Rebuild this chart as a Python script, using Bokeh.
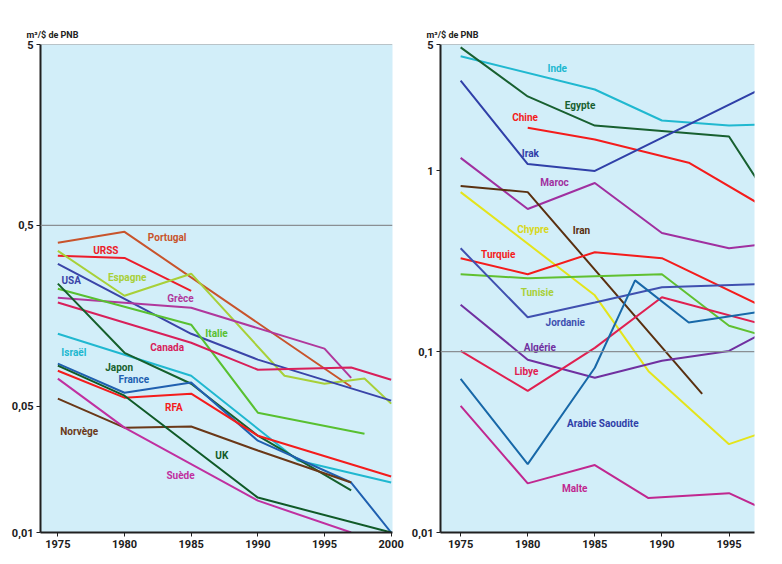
from bokeh.plotting import figure
from bokeh.models import Span, FixedTicker, ColumnDataSource
from bokeh.layouts import row
from bokeh.embed import file_html
from bokeh.resources import INLINE
from bokeh.core.properties import value

# ---------------- LEFT PANEL DATA (m3/$ de PNB) ----------------
portugal_x = [1975, 1980, 1997]
portugal_y = [0.40, 0.46, 0.064]
urss_x = [1975, 1980, 1985]
urss_y = [0.339, 0.33, 0.217]
espagne_x = [1975, 1980, 1985, 1992, 1995, 1998, 2000]
espagne_y = [0.361, 0.204, 0.270, 0.0736, 0.0665, 0.071, 0.0516]
usa_x = [1975, 1985, 1990, 2000]
usa_y = [0.306, 0.1256, 0.0904, 0.0536]
grece_x = [1975, 1985, 1995, 1997]
grece_y = [0.199, 0.175, 0.104, 0.0717]
italie_x = [1975, 1985, 1990, 1998]
italie_y = [0.223, 0.141, 0.046, 0.0352]
canada_x = [1975, 1985, 1990, 1997, 2000]
canada_y = [0.187, 0.112, 0.0795, 0.0817, 0.070]
israel_x = [1975, 1985, 1993, 2000]
israel_y = [0.1256, 0.0736, 0.025, 0.0189]
japon_x = [1975, 1980, 1985, 1990, 1997]
japon_y = [0.238, 0.0986, 0.0665, 0.0343, 0.0171]
france_x = [1975, 1980, 1985, 1990, 1997, 2000]
france_y = [0.0859, 0.0593, 0.0675, 0.0322, 0.0189, 0.0100]
rfa_x = [1975, 1980, 1985, 1990, 2000]
rfa_y = [0.0785, 0.0557, 0.0586, 0.0343, 0.0204]
norvege_x = [1975, 1980, 1985, 1990, 1997]
norvege_y = [0.055, 0.038, 0.0386, 0.0284, 0.0189]
uk_x = [1975, 1980, 1990, 2000]
uk_y = [0.0837, 0.0571, 0.0156, 0.0100]
suede_x = [1975, 1980, 1990, 1997]
suede_y = [0.071, 0.038, 0.015, 0.0100]

left_names = ["Portugal", "URSS", "Espagne", "USA", "Grèce", "Italie", "Canada",
              "Israël", "Japon", "France", "RFA", "Norvège", "UK", "Suède"]
left_label_x = [1983.2, 1978.6, 1980.2, 1976.0, 1984.2, 1986.9, 1983.2,
                1976.2, 1979.6, 1980.7, 1983.7, 1976.6, 1987.3, 1984.2]
left_label_y = [0.427, 0.361, 0.257, 0.247, 0.196, 0.126, 0.105,
                0.0987, 0.0816, 0.070, 0.0491, 0.0361, 0.0266, 0.0206]

# ---------------- RIGHT PANEL DATA ----------------
inde_x = [1975, 1985, 1990, 1995, 1997]
inde_y = [4.30, 2.82, 1.90, 1.78, 1.80]
egypte_x = [1975, 1980, 1985, 1995, 1997]
egypte_y = [4.82, 2.58, 1.78, 1.55, 0.914]
chine_x = [1980, 1985, 1992, 1997]
chine_y = [1.73, 1.49, 1.11, 0.673]
irak_x = [1975, 1980, 1985, 1997]
irak_y = [3.16, 1.09, 1.0, 2.75]
maroc_x = [1975, 1980, 1985, 1990, 1995, 1997]
maroc_y = [1.18, 0.615, 0.857, 0.453, 0.373, 0.388]
iran_x = [1975, 1980, 1993]
iran_y = [0.826, 0.763, 0.0585]
chypre_x = [1975, 1985, 1989, 1995, 1997]
chypre_y = [0.763, 0.205, 0.078, 0.0308, 0.0346]
turquie_x = [1975, 1980, 1985, 1990, 1997]
turquie_y = [0.329, 0.268, 0.355, 0.329, 0.185]
tunisie_x = [1975, 1980, 1990, 1995, 1997]
tunisie_y = [0.268, 0.255, 0.268, 0.139, 0.126]
jordanie_x = [1975, 1980, 1985, 1990, 1997]
jordanie_y = [0.373, 0.155, 0.187, 0.227, 0.236]
arabie_x = [1975, 1980, 1985, 1988, 1992, 1997]
arabie_y = [0.0708, 0.0239, 0.0815, 0.248, 0.145, 0.165]
libye_x = [1975, 1980, 1985, 1990, 1997]
libye_y = [0.101, 0.0607, 0.105, 0.20, 0.145]
algerie_x = [1975, 1980, 1985, 1990, 1995, 1997]
algerie_y = [0.182, 0.0903, 0.0718, 0.089, 0.101, 0.121]
malte_x = [1975, 1980, 1985, 1989, 1995, 1997]
malte_y = [0.0501, 0.0187, 0.0236, 0.0155, 0.0165, 0.0141]

right_names = ["Inde", "Egypte", "Chine", "Irak", "Maroc", "Chypre", "Iran",
               "Turquie", "Tunisie", "Jordanie", "Algérie", "Libye",
               "Arabie Saoudite", "Malte"]
right_label_x = [1982.2, 1983.9, 1979.8, 1980.2, 1982.0, 1980.4, 1984.0,
                 1977.8, 1980.7, 1982.8, 1980.9, 1979.9, 1985.6, 1983.5]
right_label_y = [3.69, 2.30, 1.97, 1.24, 0.858, 0.476, 0.470,
                 0.346, 0.213, 0.145, 0.105, 0.0774, 0.0403, 0.0176]

left_ticks_y = [0.01, 0.05, 0.5, 5]
left_tick_labels = ["0,01", "0,05", "0,5", "5"]
right_ticks_y = [0.01, 0.1, 1, 5]
right_tick_labels = ["0,01", "0,1", "1", "5"]
left_years = [1975, 1980, 1985, 1990, 1995, 2000]
right_years = [1975, 1980, 1985, 1990, 1995]

# ---------------- STYLE ----------------
FONT = "Roboto"
BG = "#d2eef9"

left_lines = [
    (portugal_x, portugal_y, "#c8542c"),
    (urss_x, urss_y, "#ec1c2a"),
    (espagne_x, espagne_y, "#a8d038"),
    (usa_x, usa_y, "#3a44a8"),
    (grece_x, grece_y, "#b0389c"),
    (italie_x, italie_y, "#58c030"),
    (canada_x, canada_y, "#d8205a"),
    (israel_x, israel_y, "#20b8d0"),
    (japon_x, japon_y, "#16602c"),
    (france_x, france_y, "#2060b0"),
    (rfa_x, rfa_y, "#f41c1c"),
    (norvege_x, norvege_y, "#6a3818"),
    (uk_x, uk_y, "#105a28"),
    (suede_x, suede_y, "#c030a0"),
]
left_colors = [c for _, _, c in left_lines]

right_lines = [
    (inde_x, inde_y, "#20b8d0"),
    (egypte_x, egypte_y, "#186030"),
    (chine_x, chine_y, "#f41c1c"),
    (irak_x, irak_y, "#3040a8"),
    (maroc_x, maroc_y, "#a030a0"),
    (chypre_x, chypre_y, "#e4e41c"),
    (iran_x, iran_y, "#5a3010"),
    (turquie_x, turquie_y, "#f41c1c"),
    (tunisie_x, tunisie_y, "#60c030"),
    (jordanie_x, jordanie_y, "#4050b0"),
    (algerie_x, algerie_y, "#7030a0"),
    (libye_x, libye_y, "#e02050"),
    (arabie_x, arabie_y, "#1868a8"),
    (malte_x, malte_y, "#c02890"),
]
right_label_colors = ["#20b8d0", "#186030", "#f41c1c", "#3040a8", "#a030a0",
                      "#d8d820", "#5a3010", "#f41c1c", "#a8d038", "#4050b0",
                      "#7030a0", "#e02050", "#3040a8", "#c02890"]


def make_panel(xr, ticks_y, tick_labels, years, spans, lines, names, lx, ly,
               lcolors, border_left, border_right, title_offset, fw):
    p = figure(output_backend="svg", toolbar_location=None,
               y_axis_type="log", x_range=xr, y_range=(0.01, 5),
               frame_width=fw, frame_height=488,
               min_border_left=border_left, min_border_right=border_right,
               min_border_top=44, min_border_bottom=26)
    p.background_fill_color = BG
    p.border_fill_color = "white"
    p.outline_line_color = None
    p.xgrid.visible = False
    p.ygrid.visible = False

    p.title.text = "m³/$ de PNB"
    p.title.text_font = FONT
    p.title.text_font_size = "9px"
    p.title.text_font_style = "bold"
    p.title.text_color = "#222222"
    p.title.align = "left"
    p.title.offset = title_offset
    p.title.standoff = 10

    p.yaxis.ticker = FixedTicker(ticks=ticks_y)
    p.yaxis.major_label_overrides = {t: s for t, s in zip(ticks_y, tick_labels)}
    p.xaxis.ticker = FixedTicker(ticks=years)
    for ax in (p.xaxis, p.yaxis):
        ax.axis_line_color = "#202020"
        ax.axis_line_width = 2
        ax.major_tick_line_color = "#202020"
        ax.major_tick_line_width = 1
        ax.major_tick_out = 4
        ax.major_tick_in = 0
        ax.minor_tick_line_color = None
        ax.major_label_text_font = FONT
        ax.major_label_text_font_size = "11px"
        ax.major_label_text_font_style = "bold"
        ax.major_label_text_color = "#202020"
        ax.major_label_standoff = 3

    for loc in spans:
        p.add_layout(Span(location=loc, dimension="width",
                          line_color="#8a8f94", line_width=1.2))

    for xs, ys, c in lines:
        p.line(xs, ys, line_color=c, line_width=2)

    src = ColumnDataSource(dict(x=lx, y=ly, t=names, c=lcolors))
    p.text(x="x", y="y", text="t", text_color="c", source=src,
           text_font=value(FONT), text_font_size="10px",
           text_font_style="bold", text_align="center",
           text_baseline="middle")
    return p


left = make_panel((1973.7, 2000.1), left_ticks_y, left_tick_labels, left_years,
                  [0.5, 5], left_lines, left_names, left_label_x, left_label_y,
                  left_colors, 40, 16, -14, 352)
right = make_panel((1973.5, 1996.9), right_ticks_y, right_tick_labels,
                   right_years, [0.1, 5], right_lines, right_names,
                   right_label_x, right_label_y, right_label_colors, 30, 14, -14, 314)

layout = row(left, right)
open("out.html", "w").write(file_html(layout, INLINE))
